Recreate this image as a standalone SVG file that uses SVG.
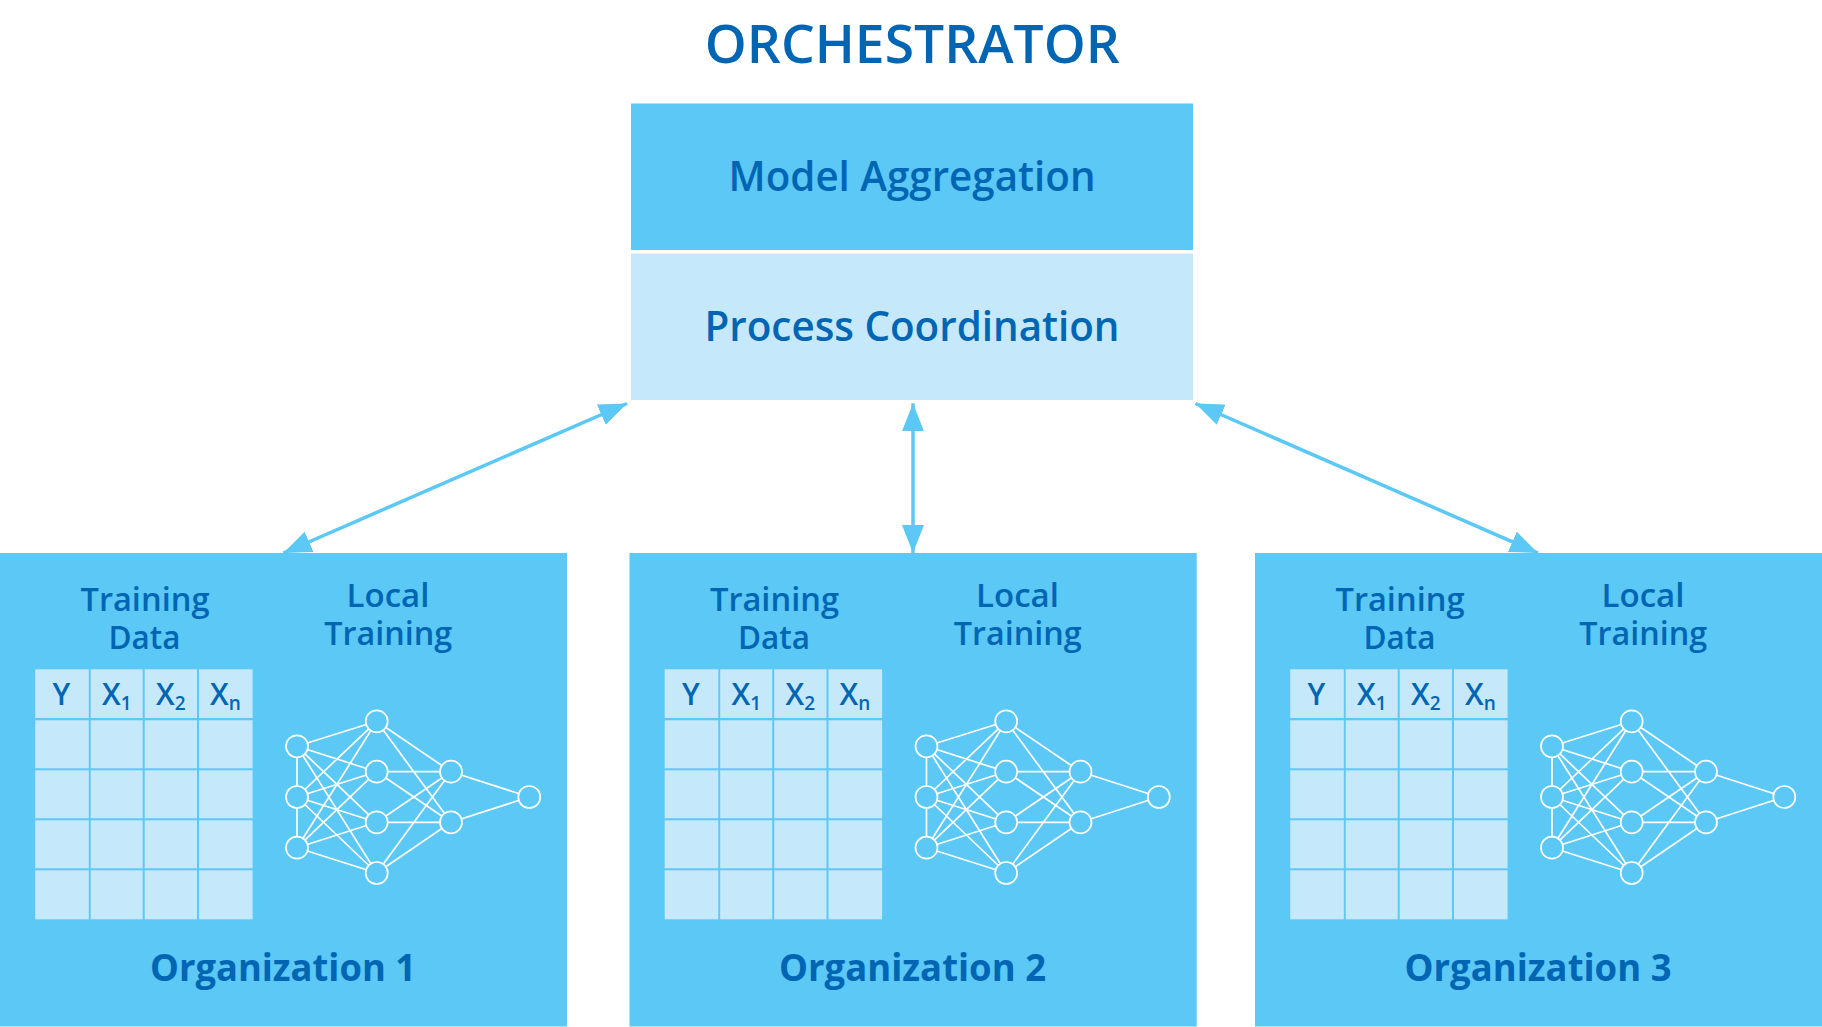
<svg xmlns="http://www.w3.org/2000/svg" xmlns:xlink="http://www.w3.org/1999/xlink" width="1822" height="1027" viewBox="0 0 1822 1027">
<style>
text{font-family:"Open Sans","Noto Sans",sans-serif;fill:#0066b3;font-weight:600;text-anchor:middle}
.blue{fill:#5bc8f6}.pale{fill:#c5e9fa}
.h1{font-size:52px}.h2{font-size:41px}.org{font-size:37px;font-weight:700}.sub{font-size:33px}.col{font-size:30px;text-anchor:start;font-weight:600}.s{font-size:19px;text-anchor:start;font-weight:600}
.e{stroke:#fff;stroke-width:1.7;fill:none}.n{stroke:#fff;stroke-width:1.7;fill:#5bc8f6}
.c{stroke:#5bc8f6;stroke-width:3.5;fill:none;marker-start:url(#head);marker-end:url(#head)}
</style>
<defs>
<marker id="head" markerUnits="userSpaceOnUse" markerWidth="30" markerHeight="22" refX="28" refY="11" orient="auto-start-reverse"><path d="M0 0L28 11L0 22Z" fill="#5bc8f6"/></marker>
<g id="table" class="pale">
<rect x="35.2" y="669.3" width="53.6" height="48.7"/><rect x="90.7" y="669.3" width="52" height="48.7"/><rect x="144.7" y="669.3" width="52.3" height="48.7"/><rect x="199" y="669.3" width="53.6" height="48.7"/>
<rect x="35.2" y="720.3" width="53.6" height="48"/><rect x="90.7" y="720.3" width="52" height="48"/><rect x="144.7" y="720.3" width="52.3" height="48"/><rect x="199" y="720.3" width="53.6" height="48"/>
<rect x="35.2" y="770.3" width="53.6" height="48"/><rect x="90.7" y="770.3" width="52" height="48"/><rect x="144.7" y="770.3" width="52.3" height="48"/><rect x="199" y="770.3" width="53.6" height="48"/>
<rect x="35.2" y="820.3" width="53.6" height="48"/><rect x="90.7" y="820.3" width="52" height="48"/><rect x="144.7" y="820.3" width="52.3" height="48"/><rect x="199" y="820.3" width="53.6" height="48"/>
<rect x="35.2" y="870.3" width="53.6" height="49"/><rect x="90.7" y="870.3" width="52" height="49"/><rect x="144.7" y="870.3" width="52.3" height="49"/><rect x="199" y="870.3" width="53.6" height="49"/>
</g>
<g id="net">
<path class="e" d="M297 746.3V847.7
M297 746.3L376.7 721.3M297 746.3L376.7 771.7M297 746.3L376.7 822.3M297 746.3L376.7 873
M297 797L376.7 721.3M297 797L376.7 771.7M297 797L376.7 822.3M297 797L376.7 873
M297 847.7L376.7 721.3M297 847.7L376.7 771.7M297 847.7L376.7 822.3M297 847.7L376.7 873
M376.7 721.3L451 771.7M376.7 721.3L451 822.3M376.7 771.7L451 771.7M376.7 771.7L451 822.3
M376.7 822.3L451 771.7M376.7 822.3L451 822.3M376.7 873L451 771.7M376.7 873L451 822.3
M451 771.7L529.3 797M451 822.3L529.3 797"/>
<g class="n">
<circle cx="297" cy="746.3" r="11"/><circle cx="297" cy="797" r="11"/><circle cx="297" cy="847.7" r="11"/>
<circle cx="376.7" cy="721.3" r="11"/><circle cx="376.7" cy="771.7" r="11"/><circle cx="376.7" cy="822.3" r="11"/><circle cx="376.7" cy="873" r="11"/>
<circle cx="451" cy="771.7" r="11"/><circle cx="451" cy="822.3" r="11"/><circle cx="529.3" cy="797" r="11"/>
</g>
</g>
</defs>
<rect width="1822" height="1027" fill="#fff"/>
<text class="h1" x="912.3" y="62.7" textLength="415" lengthAdjust="spacingAndGlyphs">ORCHESTRATOR</text>
<g id="model-aggregation"><rect class="blue" x="631" y="103.5" width="562" height="146.5"/><text class="h2" x="912" y="190.7" textLength="367" lengthAdjust="spacingAndGlyphs">Model Aggregation</text></g>
<g id="process-coordination"><rect class="pale" x="631" y="253.5" width="562" height="146.5"/><text class="h2" x="912" y="340.7" textLength="415" lengthAdjust="spacingAndGlyphs">Process Coordination</text></g>
<g id="organization-1">
<rect class="blue" x="0" y="553" width="567" height="473.5"/>
<text class="sub" x="145" y="611" textLength="129" lengthAdjust="spacingAndGlyphs">Training</text><text class="sub" x="144.5" y="649" textLength="72" lengthAdjust="spacingAndGlyphs">Data</text>
<text class="sub" x="388" y="607" textLength="83" lengthAdjust="spacingAndGlyphs">Local</text><text class="sub" x="388.3" y="644.5" textLength="128" lengthAdjust="spacingAndGlyphs">Training</text>
<use href="#table"/>
<text class="col" x="52.5" y="705">Y</text>
<text class="col" x="102" y="705">X<tspan class="s" dy="4.5">1</tspan></text>
<text class="col" x="156" y="705">X<tspan class="s" dy="4.5">2</tspan></text>
<text class="col" x="210" y="705">X<tspan class="s" dy="4.5">n</tspan></text>
<use href="#net"/>
<text class="org" x="283" y="980.7" textLength="266" lengthAdjust="spacingAndGlyphs">Organization 1</text>
</g>
<g id="organization-2" transform="translate(629.5 0)">
<rect class="blue" x="0" y="553" width="567.2" height="473.5"/>
<text class="sub" x="145" y="611" textLength="129" lengthAdjust="spacingAndGlyphs">Training</text><text class="sub" x="144.5" y="649" textLength="72" lengthAdjust="spacingAndGlyphs">Data</text>
<text class="sub" x="388" y="607" textLength="83" lengthAdjust="spacingAndGlyphs">Local</text><text class="sub" x="388.3" y="644.5" textLength="128" lengthAdjust="spacingAndGlyphs">Training</text>
<use href="#table"/>
<text class="col" x="52.5" y="705">Y</text>
<text class="col" x="102" y="705">X<tspan class="s" dy="4.5">1</tspan></text>
<text class="col" x="156" y="705">X<tspan class="s" dy="4.5">2</tspan></text>
<text class="col" x="210" y="705">X<tspan class="s" dy="4.5">n</tspan></text>
<use href="#net"/>
<text class="org" x="283" y="980.7" textLength="267" lengthAdjust="spacingAndGlyphs">Organization 2</text>
</g>
<g id="organization-3" transform="translate(1255 0)">
<rect class="blue" x="0" y="553" width="567" height="473.5"/>
<text class="sub" x="145" y="611" textLength="129" lengthAdjust="spacingAndGlyphs">Training</text><text class="sub" x="144.5" y="649" textLength="72" lengthAdjust="spacingAndGlyphs">Data</text>
<text class="sub" x="388" y="607" textLength="83" lengthAdjust="spacingAndGlyphs">Local</text><text class="sub" x="388.3" y="644.5" textLength="128" lengthAdjust="spacingAndGlyphs">Training</text>
<use href="#table"/>
<text class="col" x="52.5" y="705">Y</text>
<text class="col" x="102" y="705">X<tspan class="s" dy="4.5">1</tspan></text>
<text class="col" x="156" y="705">X<tspan class="s" dy="4.5">2</tspan></text>
<text class="col" x="210" y="705">X<tspan class="s" dy="4.5">n</tspan></text>
<use href="#net"/>
<text class="org" x="283" y="980.7" textLength="267" lengthAdjust="spacingAndGlyphs">Organization 3</text>
</g>
<g id="connectors">
<path class="c" d="M627 403.5L283.4 553"/>
<path class="c" d="M913 403.3V553"/>
<path class="c" d="M1195.5 403.5L1538 553"/>
</g>
</svg>
